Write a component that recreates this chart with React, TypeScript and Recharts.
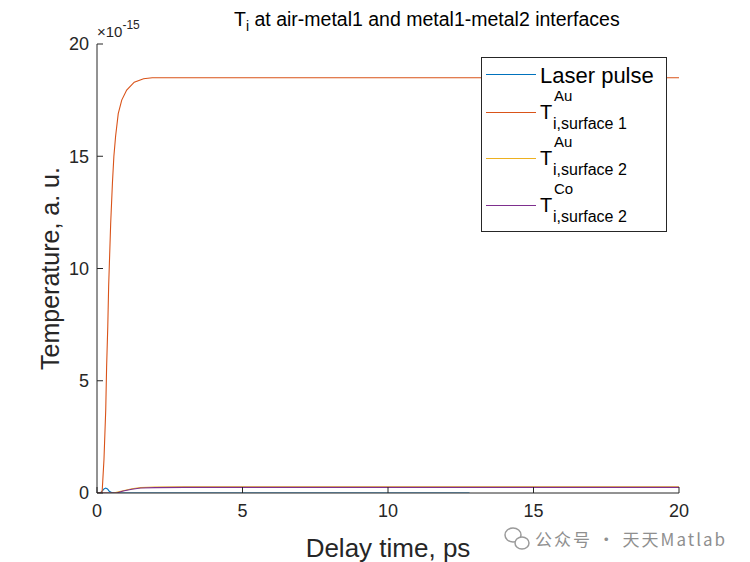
import { LineChart, Line, XAxis, YAxis, Legend, Customized } from "recharts";

const FONT = "'Liberation Sans', Arial, sans-serif";
const AXIS = "#262626";

const xTicks = [0, 5, 10, 15, 20];
const yTicks = [0, 5, 10, 15, 20];

// laser pulse: small gaussian near t = 0.3 ps, then flat zero until ~12.8 ps
const laserTime = [0, 0.12, 0.18, 0.24, 0.3, 0.36, 0.42, 0.5, 0.6, 1, 12.8];
const laserValue = [0, 0.01, 0.08, 0.18, 0.22, 0.18, 0.08, 0.02, 0, 0, 0];

// surface 1 (Au)
const au1Time = [0, 0.15, 0.18, 0.24, 0.3, 0.33, 0.37, 0.4, 0.44, 0.47, 0.53, 0.58, 0.64, 0.73, 0.85, 1.02, 1.28, 1.6, 1.9, 2.5, 20];
const au1Value = [0, 0, 0.13, 1.5, 3.7, 5.6, 7.4, 9.2, 10.8, 12.0, 13.8, 15.0, 15.9, 16.9, 17.5, 17.95, 18.3, 18.45, 18.5, 18.5, 18.5];

// surface 2 (Au)
const au2Time = [0, 0.3, 0.6, 0.9, 1.2, 1.5, 2, 3, 20];
const au2Value = [0, 0, 0.01, 0.1, 0.19, 0.24, 0.27, 0.28, 0.28];

// surface 2 (Co)
const coTime = [0, 0.3, 0.7, 0.9, 1.2, 1.5, 2, 3, 20];
const coValue = [0, 0, 0.01, 0.09, 0.17, 0.22, 0.24, 0.25, 0.25];

const toPoints = (t: number[], v: number[]) => t.map((x, i) => ({ t: x, v: v[i] }));

const series = [
  { key: "laser", color: "#0072BD", data: toPoints(laserTime, laserValue), name: "Laser pulse", sup: "", sub: "" },
  { key: "au1", color: "#D95319", data: toPoints(au1Time, au1Value), name: "T", sup: "Au", sub: "i,surface 1" },
  { key: "au2", color: "#EDB120", data: toPoints(au2Time, au2Value), name: "T", sup: "Au", sub: "i,surface 2" },
  { key: "co", color: "#7E2F8E", data: toPoints(coTime, coValue), name: "T", sup: "Co", sub: "i,surface 2" },
];

const rowY = [17, 55, 101, 148];

function LegendBox() {
  return (
    <svg width={186} height={175} style={{ display: "block" }}>
      <rect x={0.5} y={0.5} width={185} height={174} fill="#fff" stroke={AXIS} strokeWidth={1} />
      {series.map((s, i) => {
        const y = rowY[i];
        return (
          <g key={s.key} fontFamily={FONT} fill="#000">
            <line x1={5} x2={55} y1={y + 0.5} y2={y + 0.5} stroke={s.color} strokeWidth={1} />
            {s.sup ? (
              <>
                <text x={59} y={y + 7} fontSize={20}>{s.name}</text>
                <text x={73} y={y - 11} fontSize={15}>{s.sup}</text>
                <text x={72} y={y + 17} fontSize={16}>{s.sub}</text>
              </>
            ) : (
              <text x={59} y={y + 8.5} fontSize={22}>{s.name}</text>
            )}
          </g>
        );
      })}
    </svg>
  );
}

function Annotations() {
  return (
    <g fontFamily={FONT} fill="#000">
      <text x={234} y={26} fontSize={19.5}>
        <tspan>T</tspan>
        <tspan dy={5} fontSize={14}>i</tspan>
        <tspan dy={-5}> at air-metal1 and metal1-metal2 interfaces</tspan>
      </text>
      <text x={97} y={37} fontSize={15} fill={AXIS}>
        <tspan>×10</tspan>
        <tspan dy={-8} fontSize={12}>-15</tspan>
      </text>
      <g fill="none" stroke="#9a9a9a" strokeWidth={1.5}>
        <ellipse cx={513} cy={535} rx={8} ry={7} />
        <ellipse cx={522} cy={543} rx={7} ry={6} fill="#fff" />
      </g>
      <text x={535} y={546} fontSize={17} letterSpacing={2} fill="#8f8f8f" fontFamily="'Noto Sans CJK SC', sans-serif">
        公众号 · 天天Matlab
      </text>
    </g>
  );
}

export default function App() {
  return (
    <div style={{ position: "absolute", left: 0, top: 0, width: 750, height: 562, background: "#fff" }}>
      <LineChart width={750} height={562} margin={{ top: 44, right: 71, left: 0, bottom: 0 }}>
        <XAxis
          dataKey="t"
          type="number"
          domain={[0, 20]}
          ticks={xTicks}
          allowDataOverflow
          height={69}
          stroke={AXIS}
          tickSize={-6}
          tickMargin={17}
          tick={{ fill: AXIS, fontSize: 18, fontFamily: FONT }}
          label={{ value: "Delay time, ps", position: "center", dy: 20, fill: AXIS, fontSize: 26, fontFamily: FONT }}
        />
        <XAxis
          xAxisId="top"
          orientation="top"
          type="number"
          domain={[0, 20]}
          ticks={xTicks}
          height={0}
          stroke={AXIS}
          tickSize={-6}
          tick={false}
        />
        <YAxis
          type="number"
          domain={[0, 20]}
          ticks={yTicks}
          allowDataOverflow
          width={97}
          stroke={AXIS}
          tickSize={-6}
          tickMargin={14}
          tick={{ fill: AXIS, fontSize: 18, fontFamily: FONT }}
          label={{ value: "Temperature, a. u.", angle: -90, position: "center", dx: 2, fill: AXIS, fontSize: 25, fontFamily: FONT }}
        />
        <YAxis
          yAxisId="right"
          orientation="right"
          type="number"
          domain={[0, 20]}
          ticks={yTicks}
          width={0}
          stroke={AXIS}
          tickSize={-6}
          tick={false}
        />
        {series.map((s) => (
          <Line
            key={s.key}
            data={s.data}
            dataKey="v"
            type="linear"
            stroke={s.color}
            strokeWidth={1.1}
            dot={false}
            isAnimationActive={false}
          />
        ))}
        <Legend
          layout="horizontal"
          align="center"
          verticalAlign="middle"
          content={() => <LegendBox />}
          wrapperStyle={{ left: 481, top: 57, width: 186, height: 175 }}
        />
        <Customized component={Annotations} />
      </LineChart>
    </div>
  );
}
